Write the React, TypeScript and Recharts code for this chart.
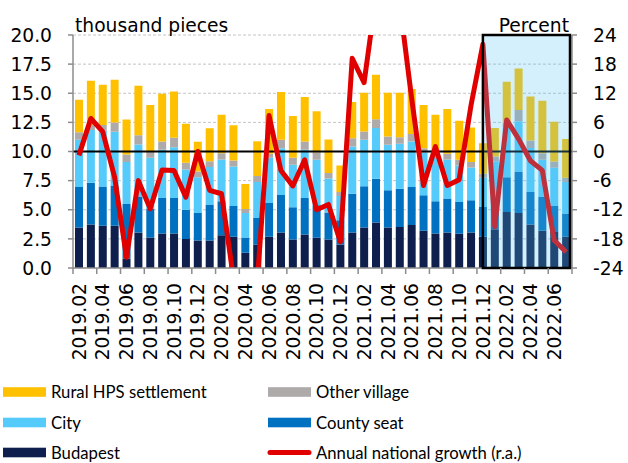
import React from 'react';
import {
  ComposedChart,
  Bar,
  Line,
  XAxis,
  YAxis,
  CartesianGrid,
  ReferenceLine,
  ReferenceArea,
} from 'recharts';

// ---- Data ----
const months = [
  '2019.02', '2019.03', '2019.04', '2019.05', '2019.06', '2019.07', '2019.08', '2019.09', '2019.10', '2019.11', '2019.12',
  '2020.01', '2020.02', '2020.03', '2020.04', '2020.05', '2020.06', '2020.07', '2020.08', '2020.09', '2020.10', '2020.11', '2020.12',
  '2021.01', '2021.02', '2021.03', '2021.04', '2021.05', '2021.06', '2021.07', '2021.08', '2021.09', '2021.10', '2021.11', '2021.12',
  '2022.01', '2022.02', '2022.03', '2022.04', '2022.05', '2022.06', '2022.07',
];

const budapest = [
  3.48, 3.73, 3.62, 3.62, 0.8, 3.05, 2.62, 2.96, 2.96, 2.5, 2.37,
  2.37, 2.82, 2.68, 1.31, 2.02, 2.68, 3.05, 2.45, 2.88, 2.59, 2.45, 2.02,
  3.05, 3.48, 3.9, 3.48, 3.53, 3.7, 3.19, 2.96, 3.05, 2.93, 3.05, 2.68,
  3.33, 4.81, 4.73, 3.73, 3.19, 3.1, 2.68,
];

const countySeat = [
  3.47, 3.59, 3.38, 3.47, 4.7, 3.05, 2.48, 3.04, 3.04, 2.51, 2.36,
  3.07, 2.91, 2.65, 1.31, 2.28, 2.9, 3.22, 2.76, 3.13, 2.79, 2.31, 2.08,
  3.33, 3.53, 3.76, 3.19, 3.28, 3.25, 3.05, 2.77, 2.91, 2.74, 2.76, 2.56,
  1.97, 2.99, 3.56, 2.79, 2.91, 2.23, 1.99,
];

const city = [
  4.05, 4.53, 4.8, 4.61, 3.59, 4.5, 4.36, 4.14, 4.37, 3.45, 3.07,
  3.22, 3.59, 3.39, 2.11, 3.08, 3.88, 4.01, 3.65, 4.13, 3.91, 2.93, 2.08,
  4.05, 3.99, 4.36, 3.9, 3.85, 3.9, 3.65, 3.93, 3.36, 3.13, 2.82, 2.51,
  3.87, 4.25, 4.3, 3.79, 3.19, 3.27, 2.71,
];

const otherVillage = [
  0.65, 0.43, 0.48, 0.8, 0.65, 0.8, 0.54, 0.71, 0.8, 0.57, 0.49,
  0.51, 0.54, 0.51, 0.34, 0.51, 0.34, 0.72, 0.6, 0.71, 0.65, 0.46, 0.34,
  0.71, 0.71, 0.74, 0.71, 0.56, 0.66, 0.39, 0.34, 0.48, 0.49, 0.46, 0.35,
  0.4, 0.45, 0.97, 0.63, 0.57, 0.55, 0.37,
];

const ruralHps = [
  2.8, 3.79, 3.45, 3.65, 3.0, 4.24, 4.0, 4.11, 3.98, 3.36, 2.54,
  2.83, 3.3, 3.02, 2.14, 2.99, 3.85, 4.1, 3.59, 3.82, 3.51, 2.88, 2.28,
  3.11, 3.33, 3.82, 3.76, 3.82, 3.85, 3.71, 3.16, 3.85, 3.36, 2.96, 2.6,
  2.45, 3.48, 3.56, 3.79, 4.5, 3.41, 3.33,
];

const annualGrowth = [
  -0.8, 6.8, 4.1, -5.3, -21.8, -6.0, -11.8, -3.8, -3.9, -9.4, 0.0,
  -8.0, -8.7, -26.0, -45.0, -27.2, 7.4, -3.9, -7.1, -1.7, -12.0, -10.9, -18.6,
  19.2, 14.2, 32.0, 48.0, 30.5, 11.0, -7.0, 1.0, -7.0, -5.8, 9.5, 22.1,
  -15.5, 6.5, 2.6, -1.9, -3.9, -18.3, -20.7,
];

const leftTicks = [0, 2.5, 5, 7.5, 10, 12.5, 15, 17.5, 20];
const rightTicks = [-24, -18, -12, -6, 0, 6, 12, 18, 24];
const boxStart = '2021.12';
const boxEnd = '2022.07';

const data = months.map((m, i) => ({
  month: m,
  budapest: budapest[i],
  countySeat: countySeat[i],
  city: city[i],
  otherVillage: otherVillage[i],
  ruralHps: ruralHps[i],
  growth: annualGrowth[i],
}));

// ---- Layout / style ----
const W = 628;
const H = 463;
const LEFT_AXIS_W = 73;
const RIGHT_AXIS_W = 56;
const TOP = 35;
const X_AXIS_H = 100;
const BOTTOM_MARGIN = 95;
const PLOT_W = W - LEFT_AXIS_W - RIGHT_AXIS_W;
const BAND = PLOT_W / months.length;

const AXIS_FONT = "'DejaVu Sans', sans-serif";
const LEGEND_FONT = "Lato, 'Open Sans', sans-serif";
const AXIS_GRAY = '#8c8c8c';

const C_BUD = '#0e1f4d';
const C_COUNTY = '#0070c0';
const C_CITY = '#55cbfb';
const C_OTHER = '#aeaaaa';
const C_RURAL = '#ffc000';
const C_LINE = '#e00000';

const XTick = (props: any) => {
  const { x, y, payload } = props;
  const value: string = payload.value;
  const idx = months.indexOf(value);
  const half = BAND / 2;
  const isLastShown = idx + 2 >= months.length;
  return (
    <g>
      <line x1={x - half} x2={x - half} y1={y} y2={y + 6} stroke={AXIS_GRAY} strokeWidth={1.5} />
      {isLastShown && (
        <line
          x1={x - half + 2 * BAND}
          x2={x - half + 2 * BAND}
          y1={y}
          y2={y + 6}
          stroke={AXIS_GRAY}
          strokeWidth={1.5}
        />
      )}
      <text
        transform={`translate(${x},${y + 15}) rotate(-90)`}
        textAnchor="end"
        dy="0.36em"
        fontFamily={AXIS_FONT}
        fontSize={18.7}
        fill="#000"
      >
        {value}
      </text>
    </g>
  );
};

const BoxShape = (p: any) => {
  const nBands = months.indexOf(boxEnd) - months.indexOf(boxStart) + 1;
  const band = p.width / nBands;
  const x = p.x + band / 2;
  const w = p.width - band / 2 - 2;
  return (
    <g>
      <rect x={x} y={p.y} width={w} height={p.height} fill="#55c4f3" fillOpacity={0.25} />
      <rect x={x} y={p.y} width={w} height={p.height} fill="none" stroke="#000" strokeWidth={2.5} />
    </g>
  );
};

const legendRows = [
  { label: 'Rural HPS settlement', color: C_RURAL, col: 0, row: 0, kind: 'rect' },
  { label: 'Other village', color: C_OTHER, col: 1, row: 0, kind: 'rect' },
  { label: 'City', color: C_CITY, col: 0, row: 1, kind: 'rect' },
  { label: 'County seat', color: C_COUNTY, col: 1, row: 1, kind: 'rect' },
  { label: 'Budapest', color: C_BUD, col: 0, row: 2, kind: 'rect' },
  { label: 'Annual national growth (r.a.)', color: C_LINE, col: 1, row: 2, kind: 'line' },
];

const colX = [3, 268];
const rowCenter = [392, 422.5, 452.5];

export default function App() {
  return (
    <div style={{ position: 'absolute', left: 0, top: 0, width: W, height: H, background: '#fff' }}>
      <ComposedChart
        width={W}
        height={H}
        data={data}
        margin={{ top: TOP, right: 0, bottom: BOTTOM_MARGIN, left: 0 }}
        barSize={8}
      >
        <CartesianGrid yAxisId="left" vertical={false} stroke="#c4c4c4" strokeDasharray="3 2" />
        <XAxis
          dataKey="month"
          interval={1}
          height={X_AXIS_H}
          tickLine={false}
          tickSize={0}
          tickMargin={0}
          axisLine={{ stroke: AXIS_GRAY, strokeWidth: 1.5 }}
          tick={(p: any) => <XTick {...p} />}
        />
        <YAxis
          yAxisId="left"
          orientation="left"
          width={LEFT_AXIS_W}
          domain={[0, 20]}
          ticks={leftTicks}
          allowDataOverflow
          tickFormatter={(v: number) => v.toFixed(1)}
          tickSize={5}
          tickMargin={16}
          tickLine={{ stroke: AXIS_GRAY, strokeWidth: 1.5 }}
          axisLine={{ stroke: AXIS_GRAY, strokeWidth: 1.5 }}
          tick={{ fill: '#000', fontSize: 18.7, fontFamily: AXIS_FONT }}
        />
        <YAxis
          yAxisId="right"
          orientation="right"
          width={RIGHT_AXIS_W}
          domain={[-24, 24]}
          ticks={rightTicks}
          allowDataOverflow
          tickSize={5}
          tickMargin={16}
          tickLine={{ stroke: AXIS_GRAY, strokeWidth: 1.5 }}
          axisLine={{ stroke: AXIS_GRAY, strokeWidth: 1.5 }}
          tick={{ fill: '#000', fontSize: 18.7, fontFamily: AXIS_FONT }}
        />
        <Bar yAxisId="left" dataKey="budapest" stackId="s" fill={C_BUD} isAnimationActive={false} />
        <Bar yAxisId="left" dataKey="countySeat" stackId="s" fill={C_COUNTY} isAnimationActive={false} />
        <Bar yAxisId="left" dataKey="city" stackId="s" fill={C_CITY} isAnimationActive={false} />
        <Bar yAxisId="left" dataKey="otherVillage" stackId="s" fill={C_OTHER} isAnimationActive={false} />
        <Bar yAxisId="left" dataKey="ruralHps" stackId="s" fill={C_RURAL} isAnimationActive={false} />
        <ReferenceLine yAxisId="right" y={0} stroke="#000" strokeWidth={2} />
        <Line
          yAxisId="right"
          type="linear"
          dataKey="growth"
          stroke={C_LINE}
          strokeWidth={5}
          strokeLinejoin="round"
          dot={false}
          activeDot={false}
          isAnimationActive={false}
        />
        <ReferenceArea
          yAxisId="left"
          x1={boxStart}
          x2={boxEnd}
          y1={0}
          y2={20}
          ifOverflow="visible"
          zIndex={1500}
          shape={(p: any) => <BoxShape {...p} />}
        />
      </ComposedChart>
      <svg
        width={W}
        height={H}
        style={{ position: 'absolute', left: 0, top: 0, pointerEvents: 'none' }}
      >
        <text x={75} y={32} fontFamily={AXIS_FONT} fontSize={18.7} fill="#000">
          thousand pieces
        </text>
        <text x={569} y={32} textAnchor="end" fontFamily={AXIS_FONT} fontSize={18.7} fill="#000">
          Percent
        </text>
        {legendRows.map((r) => {
          const x0 = colX[r.col];
          const cy = rowCenter[r.row];
          return (
            <g key={r.label}>
              {r.kind === 'rect' ? (
                <rect x={x0} y={cy - 4.8} width={43} height={9.6} fill={r.color} />
              ) : (
                <line
                  x1={x0 + 2}
                  x2={x0 + 41}
                  y1={cy}
                  y2={cy}
                  stroke={r.color}
                  strokeWidth={5}
                  strokeLinecap="round"
                />
              )}
              <text
                x={x0 + 48}
                y={cy + 6}
                fontFamily={LEGEND_FONT}
                fontSize={16.7}
                fill="#000"
              >
                {r.label}
              </text>
            </g>
          );
        })}
      </svg>
    </div>
  );
}
